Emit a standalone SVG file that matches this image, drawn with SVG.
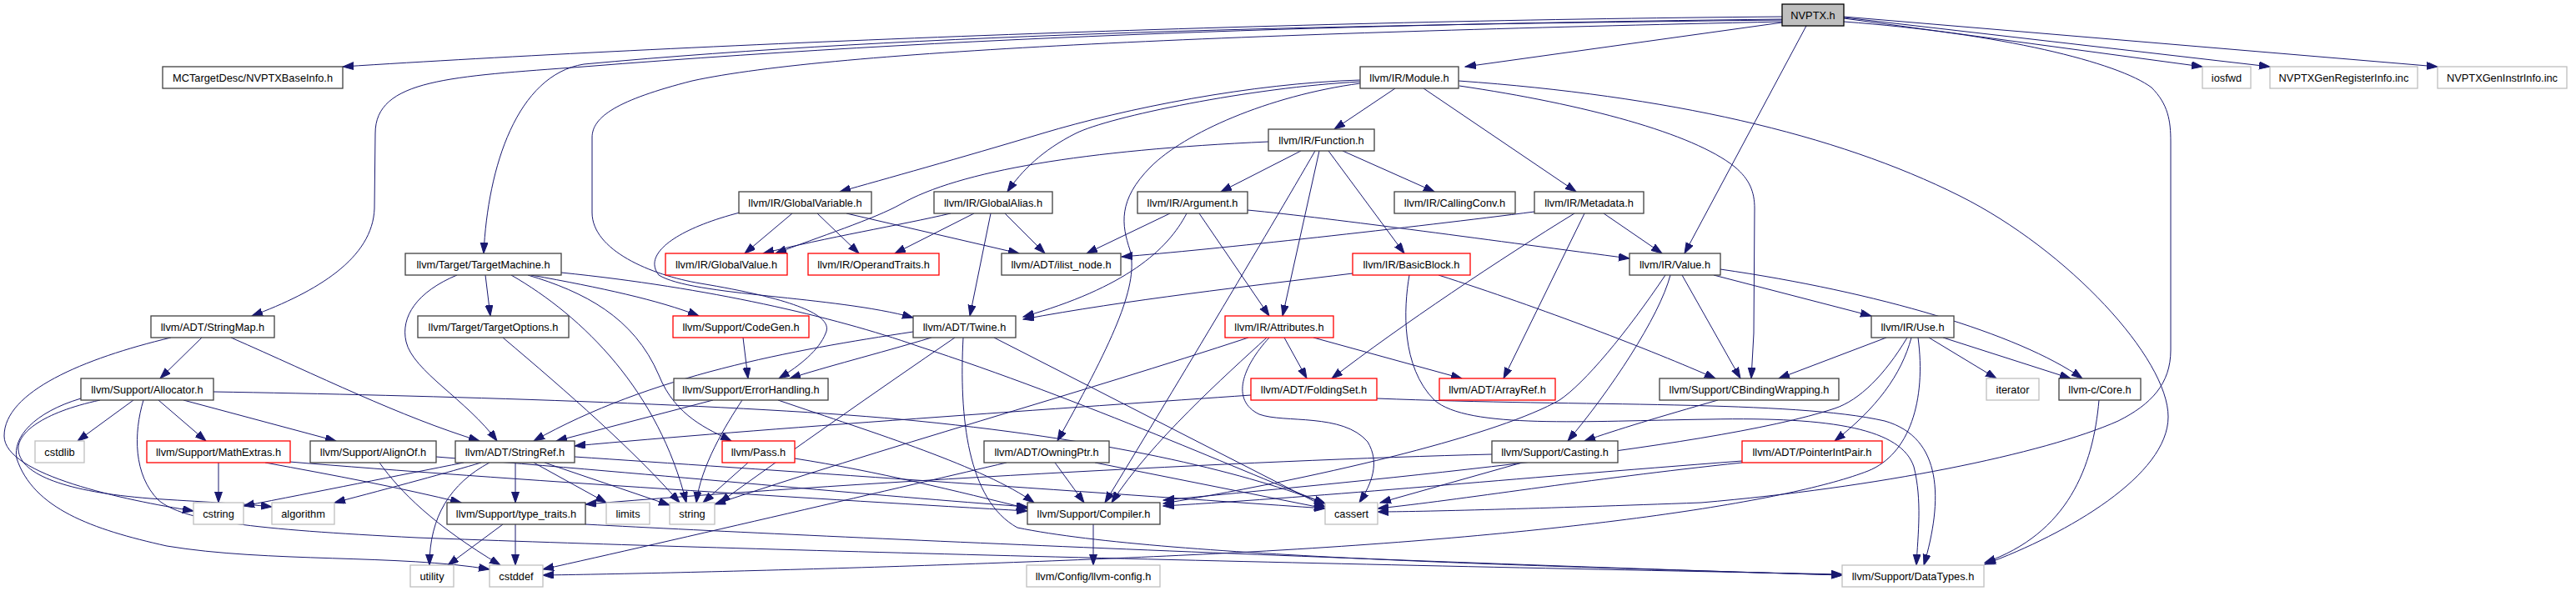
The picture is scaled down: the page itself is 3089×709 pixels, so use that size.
<svg xmlns="http://www.w3.org/2000/svg" width="3089" height="709" viewBox="0 0 3089 709">
<style>
rect{fill:#fff;stroke:#404040;stroke-width:1.3}
.root rect{fill:#bfbfbf;stroke:#000}
.gray rect{stroke:#bfbfbf}
.red rect{stroke:#ff0000}
text{font-family:"Liberation Sans",Arial,sans-serif;font-size:12.8px;fill:#000;text-anchor:middle}
#edges path{fill:none;stroke:#191970;stroke-width:1;marker-end:url(#a)}
</style>
<defs>
<marker id="a" markerWidth="14" markerHeight="10" refX="13" refY="4.5" orient="auto" markerUnits="userSpaceOnUse"><path d="M0,0 L13,4.5 L0,9 z" fill="#191970" stroke="#191970" stroke-width="1"/></marker>
</defs>
<rect x="0" y="0" width="3089" height="709" style="fill:#fff;stroke:none"/>
<g id="edges">
<path d="M2137,20 C1500,25 800,55 411,80"/>
<path d="M2137,23 C1700,28 1200,40 700,80 C540,92 450,95 450,160 L449,250 C447,310 380,350 302,379"/>
<path d="M2137,24 C1600,30 1100,40 700,77 C620,90 585,200 580,304"/>
<path d="M2137,26 C1500,40 1000,60 830,97 C740,120 710,140 710,165 L710,255 C710,300 780,330 840,340 C960,360 1000,380 990,400 C982,420 960,438 934,454"/>
<path d="M2137,27 L1757,80"/>
<path d="M2166,31 L2020,304"/>
<path d="M2211,22 L2641,80"/>
<path d="M2211,21 L2722,80"/>
<path d="M2211,20 L2923,80"/>
<path d="M2211,26 C2400,40 2540,75 2580,105 C2600,125 2603,145 2603,170 L2603,420 C2603,460 2580,485 2540,505 C2450,545 2250,585 2040,603 C1850,610 1700,614 1652,614"/>
<path d="M1673,106 L1600,155"/>
<path d="M1707,106 L1890,230"/>
<path d="M1631,96 C1500,100 1350,130 1250,160 C1150,190 1060,215 1007,230"/>
<path d="M1631,98 C1500,105 1330,140 1290,160 C1250,180 1225,205 1208,230"/>
<path d="M1631,100 C1520,115 1420,160 1380,200 C1340,240 1345,270 1355,300 C1365,340 1340,400 1268,529"/>
<path d="M1750,103 C1900,125 2030,160 2080,200 C2098,215 2104,230 2104,250 L2103,400 L2100,454"/>
<path d="M1749,97 C2000,115 2200,160 2350,235 C2480,300 2600,430 2600,500 C2600,570 2480,640 2380,677"/>
<path d="M1521,170 C1300,180 1150,205 1080,245 C1050,262 980,285 930,304"/>
<path d="M1560,181 L1464,230"/>
<path d="M1577,181 C1520,280 1400,480 1325,603"/>
<path d="M1582,181 L1538,379"/>
<path d="M1610,181 L1720,230"/>
<path d="M1593,181 L1684,304"/>
<path d="M950,256 L893,304"/>
<path d="M980,256 L1030,304"/>
<path d="M1015,256 L1222,304"/>
<path d="M887,255 C810,275 770,305 790,330 C830,355 1000,355 1095,381"/>
<path d="M1140,256 C1080,270 990,285 915,304"/>
<path d="M1168,256 L1073,304"/>
<path d="M1205,256 L1253,304"/>
<path d="M1188,256 L1163,379"/>
<path d="M1403,256 L1303,304"/>
<path d="M1423,256 C1400,300 1350,345 1227,380"/>
<path d="M1438,256 L1522,379"/>
<path d="M1496,252 C1600,262 1800,290 1954,310"/>
<path d="M1923,256 L1993,304"/>
<path d="M1840,254 C1700,272 1450,300 1345,308"/>
<path d="M1900,256 L1803,454"/>
<path d="M1888,256 C1800,310 1680,390 1597,454"/>
<path d="M1622,328 C1500,343 1350,360 1227,383"/>
<path d="M1725,330 C1850,370 1980,420 2057,454"/>
<path d="M1690,330 C1683,370 1680,440 1720,480 C1760,515 1900,505 2050,503 C2200,500 2280,515 2295,560 C2305,600 2300,640 2298,678"/>
<path d="M2055,330 L2244,379"/>
<path d="M2063,323 C2250,350 2420,400 2497,454"/>
<path d="M2017,330 L2087,454"/>
<path d="M2003,330 C1990,380 1930,470 1880,529"/>
<path d="M1997,330 C1950,400 1900,460 1870,480 C1800,520 1600,570 1395,604"/>
<path d="M2262,405 L2133,454"/>
<path d="M2292,405 C2280,450 2250,490 2200,529"/>
<path d="M2287,405 C2260,450 2230,480 2200,490 C2050,540 1600,580 1395,600"/>
<path d="M2300,405 C2310,480 2290,545 2240,565 C2150,600 1900,640 1500,662 C1200,678 800,688 651,690"/>
<path d="M2313,405 L2394,454"/>
<path d="M2330,405 L2483,454"/>
<path d="M2089,553 C1800,575 1600,595 1395,607"/>
<path d="M2089,555 C1900,575 1750,600 1652,610"/>
<path d="M1825,555 L1655,603"/>
<path d="M1789,545 C1500,552 1000,580 702,605"/>
<path d="M2060,480 C1990,500 1940,515 1900,529"/>
<path d="M2517,480 C2510,560 2480,640 2380,675"/>
<path d="M1540,405 L1567,454"/>
<path d="M1575,405 L1753,454"/>
<path d="M1497,405 C1300,470 1050,540 857,605"/>
<path d="M1522,405 C1490,440 1475,480 1510,497 C1540,508 1610,495 1640,530 C1655,555 1645,580 1630,603"/>
<path d="M1519,405 C1470,450 1380,530 1333,603"/>
<path d="M1500,474 C1300,488 900,515 689,535"/>
<path d="M1651,478 C1900,488 2150,480 2260,505 C2330,525 2330,600 2307,678"/>
<path d="M1095,398 C950,420 780,450 640,529"/>
<path d="M1117,405 C1050,425 990,440 947,454"/>
<path d="M1145,405 C1050,470 950,540 863,603"/>
<path d="M1155,405 C1150,500 1160,600 1220,633 C1400,670 1900,680 2209,690"/>
<path d="M1192,405 L1589,608"/>
<path d="M1265,555 L1300,603"/>
<path d="M1313,555 L1589,610"/>
<path d="M1207,555 C1100,580 800,650 651,683"/>
<path d="M855,480 L667,529"/>
<path d="M890,480 C870,510 840,560 835,603"/>
<path d="M933,480 C1050,520 1180,560 1240,603"/>
<path d="M891,405 L897,454"/>
<path d="M897,555 L843,603"/>
<path d="M953,550 C1050,565 1150,590 1232,610"/>
<path d="M603,405 C680,470 760,540 815,603"/>
<path d="M582,330 L588,379"/>
<path d="M548,330 C500,350 480,380 487,410 C495,445 560,480 596,529"/>
<path d="M613,330 C700,380 790,470 823,603"/>
<path d="M633,330 C700,350 760,380 790,450 C810,500 850,515 877,529"/>
<path d="M637,330 C720,345 790,360 838,379"/>
<path d="M673,327 C850,345 1000,380 1100,415 C1300,480 1500,570 1589,604"/>
<path d="M242,405 L192,454"/>
<path d="M277,405 C380,450 480,500 575,529"/>
<path d="M205,405 C100,430 5,470 5,523 C5,570 150,600 232,613"/>
<path d="M160,480 L93,529"/>
<path d="M190,480 L247,529"/>
<path d="M220,480 L403,529"/>
<path d="M120,480 C50,495 20,520 22,540 C25,570 80,590 180,598 C240,602 290,604 326,608"/>
<path d="M97,478 C40,495 15,525 20,550 C40,610 110,635 200,655 C320,675 480,665 587,683"/>
<path d="M172,480 C160,520 160,570 190,600 C220,625 300,635 500,645 C900,660 1500,675 2209,689"/>
<path d="M256,470 C500,474 900,485 1100,505 C1350,530 1500,570 1589,604"/>
<path d="M262,555 L262,603"/>
<path d="M318,555 C400,570 480,585 553,603"/>
<path d="M347,554 C600,575 1000,600 1232,613"/>
<path d="M455,555 C480,590 520,630 600,678"/>
<path d="M523,548 C800,570 1050,595 1232,608"/>
<path d="M618,555 L618,603"/>
<path d="M640,555 L727,603"/>
<path d="M653,555 L803,606"/>
<path d="M587,555 C540,580 515,620 515,678"/>
<path d="M556,555 C480,570 380,590 292,607"/>
<path d="M577,555 C540,566 470,585 401,603"/>
<path d="M689,548 C900,562 1300,590 1589,610"/>
<path d="M603,629 L537,678"/>
<path d="M618,629 L618,678"/>
<path d="M702,629 C1000,645 1700,675 2209,690"/>
<path d="M1311,629 L1311,678"/>
</g>
<g id="n0" class="root"><rect x="2137" y="5" width="74" height="26"/><text x="2174" y="22.5">NVPTX.h</text></g>
<g id="n1"><rect x="195" y="80" width="216" height="26"/><text x="303" y="97.5">MCTargetDesc/NVPTXBaseInfo.h</text></g>
<g id="n2"><rect x="1631" y="80" width="118" height="26"/><text x="1690" y="97.5">llvm/IR/Module.h</text></g>
<g id="n3" class="gray"><rect x="2641" y="80" width="58" height="26"/><text x="2670" y="97.5">iosfwd</text></g>
<g id="n4" class="gray"><rect x="2722" y="80" width="177" height="26"/><text x="2810.5" y="97.5">NVPTXGenRegisterInfo.inc</text></g>
<g id="n5" class="gray"><rect x="2923" y="80" width="155" height="26"/><text x="3000.5" y="97.5">NVPTXGenInstrInfo.inc</text></g>
<g id="n6"><rect x="1521" y="155" width="127" height="26"/><text x="1584.5" y="172.5">llvm/IR/Function.h</text></g>
<g id="n7"><rect x="886" y="230" width="159" height="26"/><text x="965.5" y="247.5">llvm/IR/GlobalVariable.h</text></g>
<g id="n8"><rect x="1120" y="230" width="142" height="26"/><text x="1191" y="247.5">llvm/IR/GlobalAlias.h</text></g>
<g id="n9"><rect x="1364" y="230" width="132" height="26"/><text x="1430" y="247.5">llvm/IR/Argument.h</text></g>
<g id="n10"><rect x="1672" y="230" width="145" height="26"/><text x="1744.5" y="247.5">llvm/IR/CallingConv.h</text></g>
<g id="n11"><rect x="1840" y="230" width="131" height="26"/><text x="1905.5" y="247.5">llvm/IR/Metadata.h</text></g>
<g id="n12"><rect x="486" y="304" width="187" height="26"/><text x="579.5" y="321.5">llvm/Target/TargetMachine.h</text></g>
<g id="n13" class="red"><rect x="798" y="304" width="146" height="26"/><text x="871" y="321.5">llvm/IR/GlobalValue.h</text></g>
<g id="n14" class="red"><rect x="969" y="304" width="157" height="26"/><text x="1047.5" y="321.5">llvm/IR/OperandTraits.h</text></g>
<g id="n15"><rect x="1201" y="304" width="143" height="26"/><text x="1272.5" y="321.5">llvm/ADT/ilist_node.h</text></g>
<g id="n16" class="red"><rect x="1622" y="304" width="141" height="26"/><text x="1692.5" y="321.5">llvm/IR/BasicBlock.h</text></g>
<g id="n17"><rect x="1954" y="304" width="109" height="26"/><text x="2008.5" y="321.5">llvm/IR/Value.h</text></g>
<g id="n18"><rect x="181" y="379" width="148" height="26"/><text x="255" y="396.5">llvm/ADT/StringMap.h</text></g>
<g id="n19"><rect x="501" y="379" width="181" height="26"/><text x="591.5" y="396.5">llvm/Target/TargetOptions.h</text></g>
<g id="n20" class="red"><rect x="807" y="379" width="163" height="26"/><text x="888.5" y="396.5">llvm/Support/CodeGen.h</text></g>
<g id="n21"><rect x="1095" y="379" width="123" height="26"/><text x="1156.5" y="396.5">llvm/ADT/Twine.h</text></g>
<g id="n22" class="red"><rect x="1469" y="379" width="130" height="26"/><text x="1534" y="396.5">llvm/IR/Attributes.h</text></g>
<g id="n23"><rect x="2244" y="379" width="99" height="26"/><text x="2293.5" y="396.5">llvm/IR/Use.h</text></g>
<g id="n24"><rect x="97" y="454" width="159" height="26"/><text x="176.5" y="471.5">llvm/Support/Allocator.h</text></g>
<g id="n25"><rect x="808" y="454" width="185" height="26"/><text x="900.5" y="471.5">llvm/Support/ErrorHandling.h</text></g>
<g id="n26" class="red"><rect x="1500" y="454" width="151" height="26"/><text x="1575.5" y="471.5">llvm/ADT/FoldingSet.h</text></g>
<g id="n27" class="red"><rect x="1726" y="454" width="139" height="26"/><text x="1795.5" y="471.5">llvm/ADT/ArrayRef.h</text></g>
<g id="n28"><rect x="1990" y="454" width="215" height="26"/><text x="2097.5" y="471.5">llvm/Support/CBindingWrapping.h</text></g>
<g id="n29" class="gray"><rect x="2382" y="454" width="63" height="26"/><text x="2413.5" y="471.5">iterator</text></g>
<g id="n30"><rect x="2469" y="454" width="98" height="26"/><text x="2518" y="471.5">llvm-c/Core.h</text></g>
<g id="n31" class="gray"><rect x="42" y="529" width="59" height="26"/><text x="71.5" y="546.5">cstdlib</text></g>
<g id="n32" class="red"><rect x="176" y="529" width="172" height="26"/><text x="262" y="546.5">llvm/Support/MathExtras.h</text></g>
<g id="n33"><rect x="372" y="529" width="151" height="26"/><text x="447.5" y="546.5">llvm/Support/AlignOf.h</text></g>
<g id="n34"><rect x="546" y="529" width="143" height="26"/><text x="617.5" y="546.5">llvm/ADT/StringRef.h</text></g>
<g id="n35" class="red"><rect x="866" y="529" width="87" height="26"/><text x="909.5" y="546.5">llvm/Pass.h</text></g>
<g id="n36"><rect x="1180" y="529" width="150" height="26"/><text x="1255" y="546.5">llvm/ADT/OwningPtr.h</text></g>
<g id="n37"><rect x="1789" y="529" width="151" height="26"/><text x="1864.5" y="546.5">llvm/Support/Casting.h</text></g>
<g id="n38" class="red"><rect x="2089" y="529" width="168" height="26"/><text x="2173" y="546.5">llvm/ADT/PointerIntPair.h</text></g>
<g id="n39" class="gray"><rect x="232" y="603" width="60" height="26"/><text x="262" y="620.5">cstring</text></g>
<g id="n40" class="gray"><rect x="326" y="603" width="75" height="26"/><text x="363.5" y="620.5">algorithm</text></g>
<g id="n41"><rect x="536" y="603" width="166" height="26"/><text x="619" y="620.5">llvm/Support/type_traits.h</text></g>
<g id="n42" class="gray"><rect x="727" y="603" width="52" height="26"/><text x="753" y="620.5">limits</text></g>
<g id="n43" class="gray"><rect x="803" y="603" width="54" height="26"/><text x="830" y="620.5">string</text></g>
<g id="n44"><rect x="1232" y="603" width="159" height="26"/><text x="1311.5" y="620.5">llvm/Support/Compiler.h</text></g>
<g id="n45" class="gray"><rect x="1589" y="603" width="63" height="26"/><text x="1620.5" y="620.5">cassert</text></g>
<g id="n46" class="gray"><rect x="492" y="678" width="52" height="26"/><text x="518" y="695.5">utility</text></g>
<g id="n47" class="gray"><rect x="587" y="678" width="64" height="26"/><text x="619" y="695.5">cstddef</text></g>
<g id="n48" class="gray"><rect x="1231" y="678" width="160" height="26"/><text x="1311" y="695.5">llvm/Config/llvm-config.h</text></g>
<g id="n49" class="gray"><rect x="2209" y="678" width="170" height="26"/><text x="2294" y="695.5">llvm/Support/DataTypes.h</text></g>
</svg>
